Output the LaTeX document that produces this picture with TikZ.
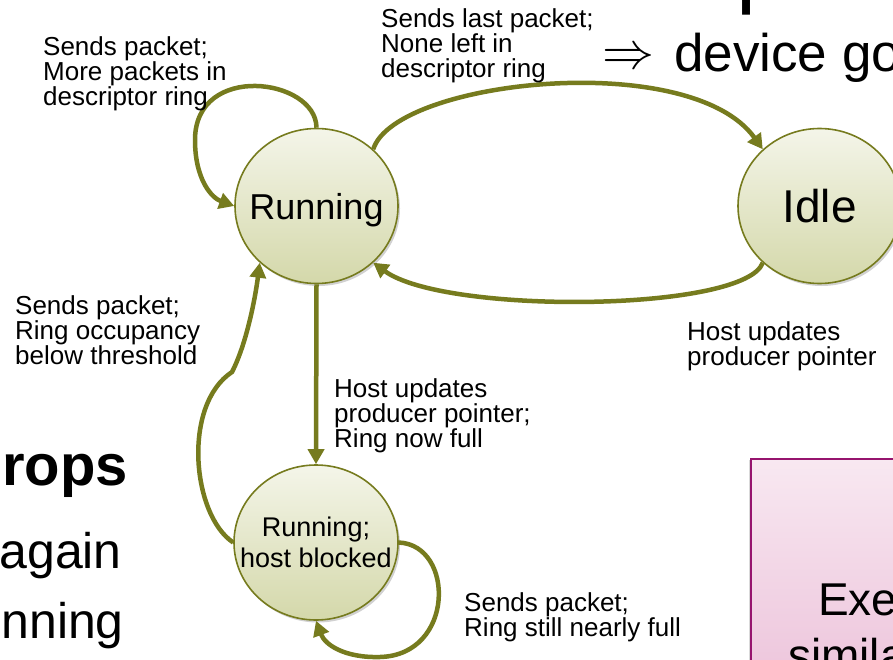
\documentclass[tikz,border=0pt]{standalone}
\usepackage{graphicx}
\usepackage{fontspec}
\setmainfont{Liberation Sans}
\usetikzlibrary{arrows.meta,shapes.geometric,shadows}

\definecolor{oliveline}{RGB}{118,123,30}
\definecolor{statetop}{RGB}{244,245,233}
\definecolor{statebot}{RGB}{212,216,170}
\definecolor{pinkline}{RGB}{150,20,110}
\definecolor{pinktop}{RGB}{248,232,241}
\definecolor{pinkbot}{RGB}{236,194,218}

\begin{document}
\begin{tikzpicture}[x=1pt,y=-1pt,
  statenode/.style={ellipse, draw=oliveline, line width=1.6pt, top color=statetop, bottom color=statebot,
    minimum width=163pt, minimum height=155pt, inner sep=0pt, align=center, text depth=0pt,
    drop shadow={shadow xshift=2pt, shadow yshift=-2.5pt, opacity=0.18, fill=black}},
  trans/.style={draw=oliveline, line width=4.5pt, -{Triangle[length=15pt,width=16pt]}},
  lbl/.style={font=\fontsize{26}{25}\selectfont, align=left, anchor=base west, inner sep=0pt},
  bigtext/.style={inner sep=0pt, anchor=base west}]
\useasboundingbox (0,0) rectangle (893,660);
\fill[white] (0,0) rectangle (893,660);

% pink note box (partly outside the picture)
\node[draw=pinkline, line width=1.5pt, top color=pinktop, bottom color=pinkbot, anchor=north west,
  minimum width=170pt, minimum height=240pt, inner sep=0pt,
  drop shadow={shadow xshift=-2pt, shadow yshift=-1pt, opacity=0.15, fill=black}] (note) at (750,458) {};
\node[bigtext, font=\fontsize{46}{46}\selectfont] (exe) at (818,615) {Exe};
\node[bigtext, font=\fontsize{46}{46}\selectfont] (sim) at (788,671) {simila};

% slide text around the diagram
\node[bigtext, font=\fontsize{90}{90}\selectfont] (frag) at (736,-3) {p};
\node[bigtext] (arr) at (602,69) {\scalebox{5.2}{$\Rightarrow$}};
\node[bigtext, font=\fontsize{53}{53}\selectfont] (dev) at (674,72) {device go};
\node[inner sep=0pt, anchor=base east, font=\fontsize{58}{58}\selectfont\bfseries] (rops) at (128,485) {rops};
\node[inner sep=0pt, anchor=base east, font=\fontsize{50}{50}\selectfont] (again) at (122,568) {again};
\node[inner sep=0pt, anchor=base east, font=\fontsize{50}{50}\selectfont] (nning) at (124,638) {nning};

% states
\node[statenode, font=\fontsize{36}{36}\selectfont] (run) at (316.5,206) {\makebox[0pt]{Running}};
\node[statenode, font=\fontsize{46}{46}\selectfont] (idle) at (819.5,206) {\makebox[0pt]{Idle}};
\node[statenode, minimum width=164pt, font=\fontsize{27}{31}\selectfont] (blk) at (316,542.5)
  {\makebox[0pt]{Running;}\\\makebox[0pt]{host blocked}};

% transitions
\draw[trans] (run.north) .. controls (316,78) and (195,62) .. (195,140) .. controls (195,180) and (212,198) .. (run.west);
\draw[trans] (run.45) .. controls (395,80) and (690,48) .. (idle.135);
\draw[trans] (idle.225) .. controls (745,312) and (445,315) .. (run.315);
\draw[trans] (run.south) -- (blk.north);
\draw[trans] (blk.west) .. controls (192,515) and (182,405) .. (232,372) .. controls (246,345) and (255,300) .. (run.225);
\draw[trans] (blk.east) .. controls (455,545) and (455,655) .. (380,657) .. controls (345,658) and (325,645) .. (blk.south);

% transition labels (anchored at the baseline of their last line)
\node[lbl] (l1) at (43,106) {Sends packet;\\More packets in\\descriptor ring};
\node[lbl] (l2) at (381,78) {Sends last packet;\\None left in\\descriptor ring};
\node[lbl] (l3) at (15,364) {Sends packet;\\Ring occupancy\\below threshold};
\node[lbl] (l4) at (334,447) {Host updates\\producer pointer;\\Ring now full};
\node[lbl] (l5) at (687,365) {Host updates\\producer pointer};
\node[lbl] (l6) at (464,636) {Sends packet;\\Ring still nearly full};
\end{tikzpicture}
\end{document}
